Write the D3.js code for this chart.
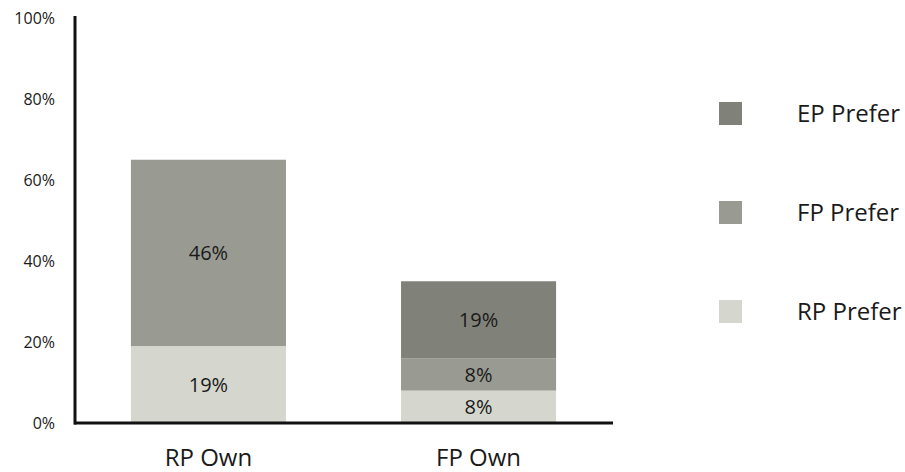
<!DOCTYPE html>
<html>
<head>
<meta charset="utf-8">
<script src="https://cdn.jsdelivr.net/npm/d3@7"></script>
<style>
  body { margin: 0; background: #fff; }
  svg { display: block; font-family: "Open Sans", sans-serif; }
</style>
</head>
<body>
<svg id="chart" width="905" height="472"></svg>
<script>
// data
var categories = ['RP Own', 'FP Own'];
var series = ['RP Prefer', 'FP Prefer', 'EP Prefer'];
var rpPrefer = [19, 8];
var fpPrefer = [46, 8];
var epPrefer = [0, 19];
var yTicks = [0, 20, 40, 60, 80, 100];
var colors = ['#d5d6cd', '#999b92', '#808279'];

var svg = d3.select('#chart');

var x = d3.scaleBand()
  .domain(categories)
  .range([75, 612])
  .paddingInner(0.426)
  .paddingOuter(0.207);

var y = d3.scaleLinear()
  .domain([0, 100])
  .range([423, 18]);

// stack the rows
var rows = categories.map(function(c, i) {
  return { cat: c, 'RP Prefer': rpPrefer[i], 'FP Prefer': fpPrefer[i], 'EP Prefer': epPrefer[i] };
});
var stacked = d3.stack().keys(series)(rows);

var layers = svg.selectAll('g.layer')
  .data(stacked)
  .enter()
  .append('g')
  .attr('class', 'layer')
  .attr('fill', function(d, i) { return colors[i]; });

layers.selectAll('rect')
  .data(function(d) { return d; })
  .enter()
  .append('rect')
  .attr('x', function(d) { return x(d.data.cat); })
  .attr('width', x.bandwidth())
  .attr('y', function(d) { return y(d[1]); })
  .attr('height', function(d) { return y(d[0]) - y(d[1]); });

// value labels
layers.selectAll('text')
  .data(function(d) { return d.filter(function(s) { return s[1] - s[0] > 0; }); })
  .enter()
  .append('text')
  .attr('x', function(d) { return x(d.data.cat) + x.bandwidth() / 2; })
  .attr('y', function(d) { return (y(d[0]) + y(d[1])) / 2; })
  .attr('dy', '0.36em')
  .attr('text-anchor', 'middle')
  .attr('fill', '#1a1a1a')
  .style('font-size', '20px')
  .text(function(d) { return (d[1] - d[0]) + '%'; });

// y axis
var yAxis = svg.append('g')
  .attr('transform', 'translate(75,0)')
  .call(d3.axisLeft(y).tickValues(yTicks).tickSize(0).tickPadding(20)
    .tickFormat(function(d) { return d + '%'; }));
yAxis.select('.domain').remove();
yAxis.selectAll('text')
  .style('font-size', '16px')
  .style('font-family', '"Open Sans", sans-serif')
  .attr('fill', '#1a1a1a');

svg.append('line')
  .attr('x1', 75).attr('x2', 75)
  .attr('y1', 16).attr('y2', y(0) + 1.5)
  .attr('stroke', '#111').attr('stroke-width', 3);

// x axis
var xAxis = svg.append('g')
  .attr('transform', 'translate(0,' + y(0) + ')')
  .call(d3.axisBottom(x).tickSize(0).tickPadding(26));
xAxis.select('.domain').remove();
xAxis.selectAll('text')
  .style('font-size', '24px')
  .style('font-family', '"Open Sans", sans-serif')
  .attr('fill', '#1a1a1a');

svg.append('line')
  .attr('x1', 74).attr('x2', 613)
  .attr('y1', y(0)).attr('y2', y(0))
  .attr('stroke', '#111').attr('stroke-width', 3);

// legend
var legendOrder = ['EP Prefer', 'FP Prefer', 'RP Prefer'];
var legend = svg.selectAll('g.legend')
  .data(legendOrder)
  .enter()
  .append('g')
  .attr('class', 'legend')
  .attr('transform', function(d, i) { return 'translate(719,' + (102 + i * 99) + ')'; });

legend.append('rect')
  .attr('width', 23)
  .attr('height', 23)
  .attr('fill', function(d) { return colors[series.indexOf(d)]; });

legend.append('text')
  .attr('x', 78)
  .attr('y', 11.5)
  .attr('dy', '0.36em')
  .attr('fill', '#1a1a1a')
  .style('font-size', '24px')
  .text(function(d) { return d; });
</script>
</body>
</html>
